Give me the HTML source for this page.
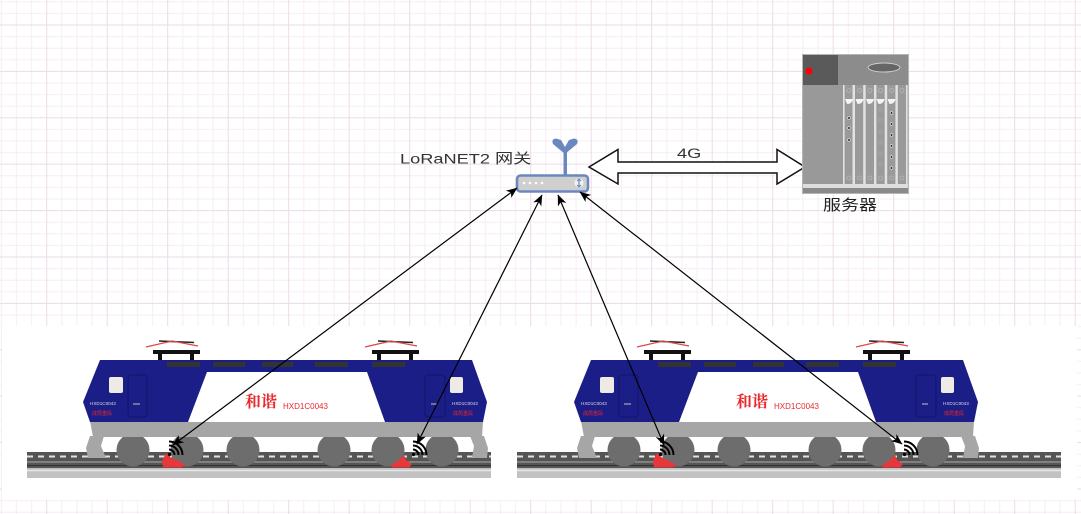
<!DOCTYPE html>
<html><head><meta charset="utf-8"><style>
html,body{margin:0;padding:0;background:#fff;}
svg{display:block;}
</style></head><body>
<svg width="1081" height="514" viewBox="0 0 1081 514" xmlns="http://www.w3.org/2000/svg">
<defs>
<pattern id="grid" x="46.2" y="24.5" width="60.5" height="46.4" patternUnits="userSpaceOnUse">
<rect x="15.125" y="0" width="1" height="46.4" fill="#f6edf3"/>
<rect x="30.25" y="0" width="1" height="46.4" fill="#f6edf3"/>
<rect x="45.375" y="0" width="1" height="46.4" fill="#f6edf3"/>
<rect x="0" y="11.6" width="60.5" height="1" fill="#f6edf3"/>
<rect x="0" y="23.2" width="60.5" height="1" fill="#f6edf3"/>
<rect x="0" y="34.8" width="60.5" height="1" fill="#f6edf3"/>
<rect x="0" y="0" width="1" height="46.4" fill="#ecdbe8"/>
<rect x="0" y="0" width="60.5" height="1" fill="#ecdbe8"/>
</pattern>
<marker id="ah" viewBox="0 0 11 9" refX="10.5" refY="4.5" markerWidth="11" markerHeight="9" markerUnits="userSpaceOnUse" orient="auto-start-reverse">
<path d="M0,0 L11,4.5 L0,9 L3,4.5 Z" fill="#000"/>
</marker>
</defs>
<rect width="1081" height="514" fill="#fff"/>
<rect width="1081" height="514" fill="url(#grid)"/>
<rect x="2" y="326" width="1075" height="174" fill="#fff"/>

<!-- ===== Train 1 ===== -->
<g>
<rect x="27" y="452" width="464" height="16" fill="#555"/>
<line x1="27" y1="456.5" x2="491" y2="456.5" stroke="#e2e2e2" stroke-width="2" stroke-dasharray="6 5"/>
<line x1="27" y1="462" x2="491" y2="462" stroke="#aaa" stroke-width="1"/>
<line x1="27" y1="465.5" x2="491" y2="465.5" stroke="#333" stroke-width="1"/>
<rect x="27" y="468" width="464" height="10" fill="#c2c2c2"/>
<line x1="27" y1="470.5" x2="491" y2="470.5" stroke="#e6e6e6" stroke-width="1.5"/>
<g fill="#6d6d6d">
<circle cx="133" cy="450" r="16.5"/><circle cx="187" cy="450" r="16.5"/><circle cx="243" cy="450" r="16.5"/>
<circle cx="334" cy="450" r="16.5"/><circle cx="388" cy="450" r="16.5"/><circle cx="442" cy="450" r="16.5"/>
</g>
<g fill="#a6a6a6">
<path d="M90,421 L483,421 L482,437 L93,437 Z"/>
<path d="M90,436 L104,436 L101,446 L106,458 L88,458 L86,448 Z"/>
<path d="M470,436 L484,436 L488,448 L487,458 L472,458 L474,446 Z"/>
</g>
<path d="M100,360 L472,360 L487,402 L483,422 L90,422 L83,402 Z" fill="#1c1e87"/>
<path d="M207,372 L367,372 L385,422 L188,422 Z" fill="#fff"/>
<g fill="#333">
<rect x="167" y="362" width="33" height="5"/><rect x="213" y="362" width="32" height="5"/><rect x="262" y="362" width="31" height="5"/>
<rect x="315" y="362" width="33" height="5"/><rect x="372" y="362" width="33" height="5"/>
</g>
<g>
<rect x="153" y="350" width="47" height="4" fill="#111"/>
<rect x="158" y="353" width="4" height="7" fill="#111"/><rect x="190" y="353" width="4" height="7" fill="#111"/>
<line x1="159" y1="341" x2="194" y2="342.5" stroke="#222" stroke-width="1.5"/>
<polyline points="146,347 172,341 198,346" fill="none" stroke="#e04848" stroke-width="1.3"/>
<rect x="372" y="350" width="47" height="4" fill="#111"/>
<rect x="377" y="353" width="4" height="7" fill="#111"/><rect x="409" y="353" width="4" height="7" fill="#111"/>
<line x1="378" y1="341" x2="413" y2="342.5" stroke="#222" stroke-width="1.5"/>
<polyline points="365,347 391,341 417,346" fill="none" stroke="#e04848" stroke-width="1.3"/>
</g>
<rect x="109" y="377" width="14" height="16" rx="2" fill="#eeeae6"/>
<rect x="450" y="377" width="13" height="16" rx="2" fill="#eeeae6"/>
<rect x="128" y="375" width="19" height="42" rx="3" fill="none" stroke="#12136a" stroke-width="1"/>
<rect x="425" y="375" width="20" height="42" rx="3" fill="none" stroke="#12136a" stroke-width="1"/>
<line x1="133" y1="404" x2="140" y2="404" stroke="#aaa" stroke-width="1.2"/>
<line x1="431" y1="404" x2="437" y2="404" stroke="#aaa" stroke-width="1.2"/>
<text x="90" y="405" font-family="Liberation Sans, sans-serif" font-size="4.6" fill="#ddd">HXD1C0043</text>
<text x="92" y="415" font-family="Liberation Sans, 'Noto Sans CJK SC', sans-serif" font-size="5" fill="#e8282c">成局重段</text>
<text x="452" y="405" font-family="Liberation Sans, sans-serif" font-size="4.6" fill="#ddd">HXD1C0043</text>
<text x="453" y="415" font-family="Liberation Sans, 'Noto Sans CJK SC', sans-serif" font-size="5" fill="#e8282c">成局重段</text>
<text x="245" y="407" font-family="'Noto Serif CJK SC', serif" font-weight="bold" font-size="16" fill="#e8282c">和谐</text>
<text x="283" y="409" font-family="Liberation Sans, sans-serif" font-size="8" fill="#e8282c">HXD1C0043</text>
<path d="M166,453 L170,457 L178,461 L186,465 L181,467.5 L163,467.5 L162,461 Z" fill="#e8373a"/>
<path d="M391,465 L398,461 L404,455 L406,460 L412,464 L409,467.5 L392,467.5 Z" fill="#e8373a"/>
<g fill="none" stroke="#000" stroke-width="2">
<path d="M169,449.5 A5.5,5.5 0 0 1 174.5,455"/>
<path d="M169,445.5 A9.5,9.5 0 0 1 178.5,455"/>
<path d="M169,441.5 A13.5,13.5 0 0 1 182.5,455"/>
<path d="M413,449.5 A5.5,5.5 0 0 1 418.5,455"/>
<path d="M413,445.5 A9.5,9.5 0 0 1 422.5,455"/>
<path d="M413,441.5 A13.5,13.5 0 0 1 426.5,455"/>
</g>
<circle cx="169.5" cy="454.5" r="1.6" fill="#000"/>
<circle cx="413.5" cy="454.5" r="1.6" fill="#000"/>
</g>

<!-- ===== Train 2 ===== -->
<rect x="517" y="452" width="544" height="16" fill="#555"/>
<line x1="517" y1="456.5" x2="1061" y2="456.5" stroke="#e2e2e2" stroke-width="2" stroke-dasharray="6 5"/>
<line x1="517" y1="462" x2="1061" y2="462" stroke="#aaa" stroke-width="1"/>
<line x1="517" y1="465.5" x2="1061" y2="465.5" stroke="#333" stroke-width="1"/>
<rect x="517" y="468" width="544" height="10" fill="#c2c2c2"/>
<line x1="517" y1="470.5" x2="1061" y2="470.5" stroke="#e6e6e6" stroke-width="1.5"/>
<g transform="translate(491,0)">
<g fill="#6d6d6d">
<circle cx="133" cy="450" r="16.5"/><circle cx="187" cy="450" r="16.5"/><circle cx="243" cy="450" r="16.5"/>
<circle cx="334" cy="450" r="16.5"/><circle cx="388" cy="450" r="16.5"/><circle cx="442" cy="450" r="16.5"/>
</g>
<g fill="#a6a6a6">
<path d="M90,421 L483,421 L482,437 L93,437 Z"/>
<path d="M90,436 L104,436 L101,446 L106,458 L88,458 L86,448 Z"/>
<path d="M470,436 L484,436 L488,448 L487,458 L472,458 L474,446 Z"/>
</g>
<path d="M100,360 L472,360 L487,402 L483,422 L90,422 L83,402 Z" fill="#1c1e87"/>
<path d="M207,372 L367,372 L385,422 L188,422 Z" fill="#fff"/>
<g fill="#333">
<rect x="167" y="362" width="33" height="5"/><rect x="213" y="362" width="32" height="5"/><rect x="262" y="362" width="31" height="5"/>
<rect x="315" y="362" width="33" height="5"/><rect x="372" y="362" width="33" height="5"/>
</g>
<g>
<rect x="153" y="350" width="47" height="4" fill="#111"/>
<rect x="158" y="353" width="4" height="7" fill="#111"/><rect x="190" y="353" width="4" height="7" fill="#111"/>
<line x1="159" y1="341" x2="194" y2="342.5" stroke="#222" stroke-width="1.5"/>
<polyline points="146,347 172,341 198,346" fill="none" stroke="#e04848" stroke-width="1.3"/>
<rect x="372" y="350" width="47" height="4" fill="#111"/>
<rect x="377" y="353" width="4" height="7" fill="#111"/><rect x="409" y="353" width="4" height="7" fill="#111"/>
<line x1="378" y1="341" x2="413" y2="342.5" stroke="#222" stroke-width="1.5"/>
<polyline points="365,347 391,341 417,346" fill="none" stroke="#e04848" stroke-width="1.3"/>
</g>
<rect x="109" y="377" width="14" height="16" rx="2" fill="#eeeae6"/>
<rect x="450" y="377" width="13" height="16" rx="2" fill="#eeeae6"/>
<rect x="128" y="375" width="19" height="42" rx="3" fill="none" stroke="#12136a" stroke-width="1"/>
<rect x="425" y="375" width="20" height="42" rx="3" fill="none" stroke="#12136a" stroke-width="1"/>
<line x1="133" y1="404" x2="140" y2="404" stroke="#aaa" stroke-width="1.2"/>
<line x1="431" y1="404" x2="437" y2="404" stroke="#aaa" stroke-width="1.2"/>
<text x="90" y="405" font-family="Liberation Sans, sans-serif" font-size="4.6" fill="#ddd">HXD1C0043</text>
<text x="92" y="415" font-family="Liberation Sans, 'Noto Sans CJK SC', sans-serif" font-size="5" fill="#e8282c">成局重段</text>
<text x="452" y="405" font-family="Liberation Sans, sans-serif" font-size="4.6" fill="#ddd">HXD1C0043</text>
<text x="453" y="415" font-family="Liberation Sans, 'Noto Sans CJK SC', sans-serif" font-size="5" fill="#e8282c">成局重段</text>
<text x="245" y="407" font-family="'Noto Serif CJK SC', serif" font-weight="bold" font-size="16" fill="#e8282c">和谐</text>
<text x="283" y="409" font-family="Liberation Sans, sans-serif" font-size="8" fill="#e8282c">HXD1C0043</text>
<path d="M166,453 L170,457 L178,461 L186,465 L181,467.5 L163,467.5 L162,461 Z" fill="#e8373a"/>
<path d="M391,465 L398,461 L404,455 L406,460 L412,464 L409,467.5 L392,467.5 Z" fill="#e8373a"/>
<g fill="none" stroke="#000" stroke-width="2">
<path d="M169,449.5 A5.5,5.5 0 0 1 174.5,455"/>
<path d="M169,445.5 A9.5,9.5 0 0 1 178.5,455"/>
<path d="M169,441.5 A13.5,13.5 0 0 1 182.5,455"/>
<path d="M413,449.5 A5.5,5.5 0 0 1 418.5,455"/>
<path d="M413,445.5 A9.5,9.5 0 0 1 422.5,455"/>
<path d="M413,441.5 A13.5,13.5 0 0 1 426.5,455"/>
</g>
<circle cx="169.5" cy="454.5" r="1.6" fill="#000"/>
<circle cx="413.5" cy="454.5" r="1.6" fill="#000"/>
</g>

<!-- ===== Gateway ===== -->
<rect x="563.5" y="150" width="3.5" height="26" fill="#6b87bf"/>
<path d="M565,154 L553,144 Q551,139 556,138.5 L561,140 L565,147 L569,140 L574,138.5 Q579,139 577,144 Z" fill="#6b87bf"/>
<rect x="517" y="175.5" width="71" height="16" rx="3.5" fill="#cfcfcf" stroke="#6b87bf" stroke-width="2.5"/>
<g fill="#fff">
<circle cx="524" cy="183" r="1.3"/><circle cx="530" cy="183" r="1.3"/><circle cx="536" cy="183" r="1.3"/><circle cx="542" cy="183" r="1.3"/>
</g>
<circle cx="579" cy="183" r="4.5" fill="#f2f2f2"/>
<line x1="579" y1="179.5" x2="579" y2="186.5" stroke="#6b87bf" stroke-width="1.2"/>
<path d="M577,181 L579,179 L581,181 M577,185 L579,187 L581,185" fill="none" stroke="#6b87bf" stroke-width="1"/>
<text transform="translate(400,163.3) scale(1.3,1)" font-family="Liberation Sans, 'Noto Sans CJK SC', sans-serif" font-size="14" fill="#333">LoRaNET2 网关</text>

<!-- ===== 4G double arrow ===== -->
<path d="M589,167 L618,149.5 L618,162 L777,162 L777,149.5 L805,167 L777,184 L777,173 L618,173 L618,184 Z" fill="#fff" stroke="#111" stroke-width="1.5" stroke-linejoin="miter"/>
<text transform="translate(677,158) scale(1.3,1)" font-family="Liberation Sans, sans-serif" font-size="14" fill="#333">4G</text>

<!-- ===== Server ===== -->
<rect x="802.5" y="54.5" width="106" height="139" fill="#9a9a9a" stroke="#b5b5b5" stroke-width="1"/>
<rect x="803" y="55" width="35" height="30" fill="#5a5a5a"/>
<rect x="838" y="55" width="70" height="30" fill="#8c8c8c"/>
<ellipse cx="884" cy="67.5" rx="16" ry="4.5" fill="#666" stroke="#cfcfcf" stroke-width="1"/>
<circle cx="809" cy="71" r="3.5" fill="#ff0000"/>
<rect x="803" y="85" width="40" height="99" fill="#999"/>
<g fill="#e2e2e2">
<rect x="843" y="85" width="1.6" height="99"/><rect x="852.5" y="85" width="1.6" height="99"/>
<rect x="853.8" y="85" width="1.2" height="99"/><rect x="863.2" y="85" width="1.6" height="99"/>
<rect x="864.5" y="85" width="1.2" height="99"/><rect x="874" y="85" width="1.6" height="99"/>
<rect x="875.2" y="85" width="1.2" height="99"/><rect x="884.7" y="85" width="1.6" height="99"/>
<rect x="886" y="85" width="1.2" height="99"/><rect x="895.4" y="85" width="1.6" height="99"/>
<rect x="896.6" y="85" width="1.2" height="99"/><rect x="906" y="85" width="1.6" height="99"/>
</g>
<g fill="none" stroke="#b8b8b8" stroke-width="0.8">
<circle cx="849" cy="90.5" r="2"/><circle cx="859.5" cy="90.5" r="2"/><circle cx="870" cy="90.5" r="2"/><circle cx="880.5" cy="90.5" r="2"/><circle cx="891.5" cy="90.5" r="2"/><circle cx="902" cy="90.5" r="2"/>
<circle cx="849" cy="178" r="2"/><circle cx="859.5" cy="178" r="2"/><circle cx="870" cy="178" r="2"/><circle cx="880.5" cy="178" r="2"/><circle cx="891.5" cy="178" r="2"/><circle cx="902" cy="178" r="2"/>
</g>
<g fill="#f4f4f4">
<path d="M845,99 L853,99 Q852,104 847,104 Z"/><path d="M855.5,99 L863.5,99 Q862.5,104 857.5,104 Z"/>
<path d="M866,99 L874,99 Q873,104 868,104 Z"/><path d="M876.5,99 L884.5,99 Q883.5,104 878.5,104 Z"/>
<path d="M887.5,99 L895.5,99 Q894.5,104 889.5,104 Z"/>
</g>
<g fill="#222" stroke="#eee" stroke-width="0.6">
<circle cx="849" cy="118" r="1.3"/><circle cx="849" cy="128" r="1.3"/><circle cx="849" cy="140" r="1.3"/>
<circle cx="891.5" cy="113" r="1.3"/><circle cx="891.5" cy="124" r="1.3"/><circle cx="891.5" cy="135" r="1.3"/>
<circle cx="891.5" cy="146" r="1.3"/><circle cx="891.5" cy="157" r="1.3"/><circle cx="891.5" cy="168" r="1.3"/>
</g>
<g fill="none" stroke="#b0b0b0" stroke-width="0.6">
<rect x="879" y="108" width="3" height="3"/><rect x="879" y="119" width="3" height="3"/><rect x="879" y="130" width="3" height="3"/>
<rect x="879" y="141" width="3" height="3"/><rect x="879" y="152" width="3" height="3"/><rect x="879" y="163" width="3" height="3"/>
</g>
<rect x="803" y="184" width="105" height="4" fill="#dedede"/>
<rect x="803" y="188" width="105" height="5" fill="#8a8a8a"/>
<text transform="translate(823,210) scale(1.2,1)" font-family="Liberation Sans, 'Noto Sans CJK SC', sans-serif" font-size="15" fill="#222">服务器</text>

<!-- ===== Connectors ===== -->
<g stroke="#000" stroke-width="1.2" fill="none" marker-start="url(#ah)" marker-end="url(#ah)">
<line x1="517" y1="188" x2="173" y2="445"/>
<line x1="542" y1="195" x2="417" y2="444"/>
<line x1="558" y1="195" x2="664" y2="445"/>
<line x1="580" y1="192" x2="902" y2="444"/>
</g>
</svg>
</body></html>
